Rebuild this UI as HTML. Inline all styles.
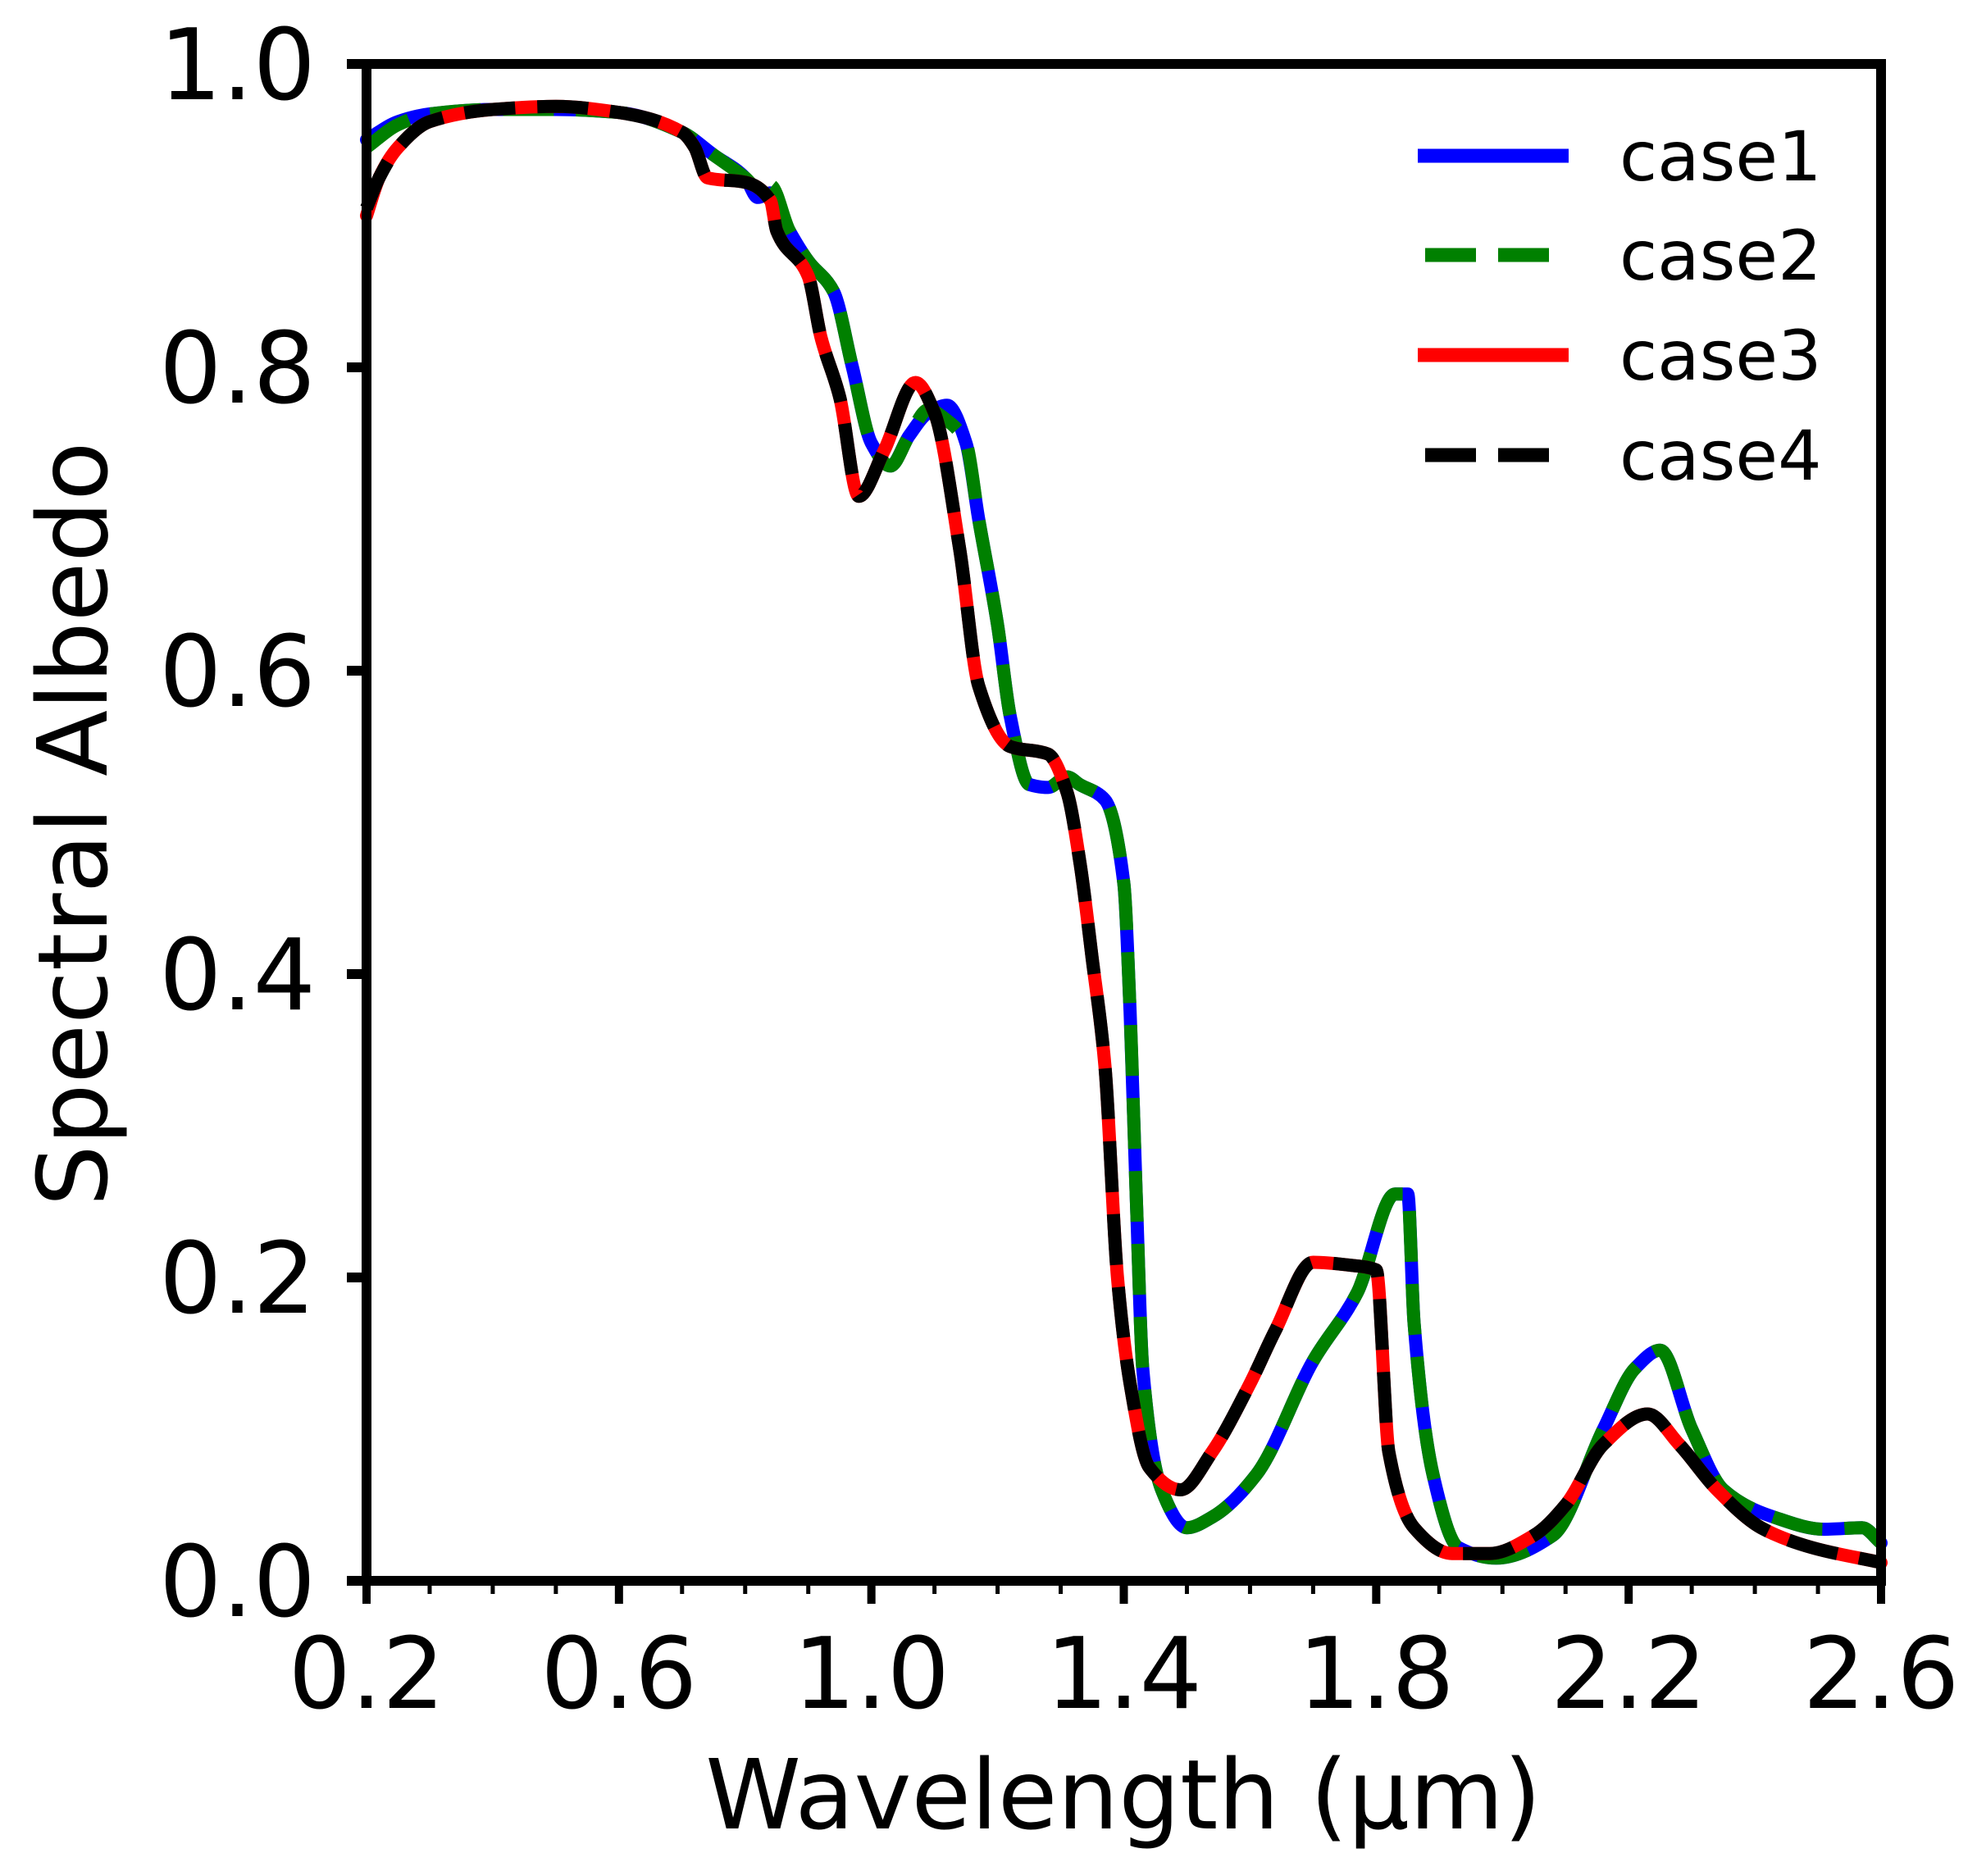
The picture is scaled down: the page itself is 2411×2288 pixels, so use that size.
<!DOCTYPE html>
<html><head><meta charset="utf-8"><style>
html,body{margin:0;padding:0;background:#fff;}
svg{display:block;font-family:"DejaVu Sans","Liberation Sans",sans-serif;}
</style></head><body>
<svg id="chart" width="2411" height="2288" viewBox="0 0 2411 2288">
<rect width="2411" height="2288" fill="#fff"/>
<g id="series"></g>
<g id="axes"></g>
<text x="1370" y="2230" font-size="118" text-anchor="middle">Wavelength (μm)</text>
<text transform="translate(130,1005) rotate(-90)" font-size="118" text-anchor="middle">Spectral Albedo</text>
<g id="legend"></g>
</svg>
<script>
const xTicks = [0.2, 0.6, 1.0, 1.4, 1.8, 2.2, 2.6];
const xTickLabels = ["0.2","0.6","1.0","1.4","1.8","2.2","2.6"];
const yTicks = [0, 0.2, 0.4, 0.6, 0.8, 1.0];
const yTickLabels = ["0.0","0.2","0.4","0.6","0.8","1.0"];
const seriesNames = ["case1","case2","case3","case4"];

const wlA = [0.2,0.25,0.3,0.4,0.5,0.6,0.7,0.75,0.8,0.82,0.84,0.87,0.9,0.94,0.97,1.0,1.03,1.06,1.09,1.12,1.15,1.17,1.2,1.22,1.25,1.28,1.31,1.33,1.37,1.40,1.41,1.42,1.43,1.46,1.50,1.54,1.61,1.70,1.77,1.83,1.85,1.86,1.89,1.93,1.99,2.08,2.16,2.21,2.25,2.30,2.35,2.43,2.51,2.57,2.6];
const case1 = [0.95,0.962,0.967,0.97,0.97,0.968,0.955,0.94,0.925,0.912,0.915,0.89,0.87,0.85,0.8,0.75,0.735,0.755,0.77,0.775,0.75,0.70,0.63,0.57,0.525,0.523,0.53,0.525,0.515,0.46,0.375,0.25,0.14,0.06,0.035,0.042,0.07,0.145,0.19,0.255,0.255,0.17,0.07,0.022,0.015,0.03,0.10,0.14,0.152,0.10,0.06,0.042,0.034,0.035,0.025];
const case2 = [0.945,0.96,0.967,0.97,0.97,0.968,0.955,0.94,0.925,0.918,0.92,0.89,0.87,0.85,0.8,0.75,0.735,0.755,0.772,0.765,0.75,0.70,0.63,0.57,0.525,0.523,0.53,0.525,0.515,0.46,0.375,0.25,0.14,0.06,0.035,0.042,0.07,0.145,0.19,0.255,0.255,0.17,0.07,0.022,0.015,0.03,0.10,0.14,0.152,0.10,0.06,0.042,0.034,0.035,0.025];
const wlB = [0.2,0.22,0.25,0.3,0.4,0.5,0.6,0.7,0.72,0.74,0.8,0.84,0.85,0.9,0.92,0.95,0.98,1.02,1.07,1.1,1.14,1.17,1.22,1.28,1.31,1.33,1.35,1.37,1.39,1.41,1.44,1.49,1.54,1.60,1.64,1.70,1.76,1.80,1.82,1.86,1.92,1.98,2.05,2.1,2.16,2.23,2.28,2.34,2.41,2.49,2.6];
const case3 = [0.90,0.925,0.945,0.962,0.97,0.972,0.968,0.955,0.945,0.925,0.922,0.91,0.89,0.86,0.82,0.78,0.715,0.745,0.79,0.77,0.68,0.59,0.55,0.545,0.52,0.475,0.41,0.34,0.20,0.13,0.075,0.06,0.085,0.13,0.165,0.21,0.208,0.205,0.085,0.035,0.018,0.018,0.03,0.05,0.09,0.11,0.09,0.06,0.035,0.022,0.012];
const case4 = [0.905,0.925,0.945,0.962,0.97,0.972,0.968,0.955,0.945,0.925,0.922,0.91,0.89,0.86,0.82,0.78,0.715,0.745,0.79,0.77,0.68,0.59,0.55,0.545,0.52,0.475,0.41,0.34,0.20,0.13,0.075,0.06,0.085,0.13,0.165,0.21,0.208,0.205,0.085,0.035,0.018,0.018,0.03,0.05,0.09,0.11,0.09,0.06,0.035,0.022,0.012];

const L=447,R=2294,T=78,B=1928;
const X = v => L + (v-0.2)/2.4*(R-L);
const Y = v => B - v*(B-T);
const NS="http://www.w3.org/2000/svg";
function mk(tag, attrs, parent){const e=document.createElementNS(NS,tag);for(const k in attrs)e.setAttribute(k,attrs[k]);parent.appendChild(e);return e;}

function monotonePath(xs, ys){
  const n=xs.length, d=[], m=new Array(n);
  for(let i=0;i<n-1;i++) d.push((ys[i+1]-ys[i])/(xs[i+1]-xs[i]));
  m[0]=d[0]; m[n-1]=d[n-2];
  for(let i=1;i<n-1;i++){
    if(d[i-1]*d[i]<=0) m[i]=0;
    else { const w1=2*(xs[i+1]-xs[i])+(xs[i]-xs[i-1]), w2=(xs[i+1]-xs[i])+2*(xs[i]-xs[i-1]); m[i]=(w1+w2)/(w1/d[i-1]+w2/d[i]); }
  }
  let p='M'+xs[0].toFixed(1)+','+ys[0].toFixed(1);
  for(let i=0;i<n-1;i++){
    const h=(xs[i+1]-xs[i])/3;
    p+='C'+(xs[i]+h).toFixed(1)+','+(ys[i]+m[i]*h).toFixed(1)+' '+(xs[i+1]-h).toFixed(1)+','+(ys[i+1]-m[i+1]*h).toFixed(1)+' '+xs[i+1].toFixed(1)+','+ys[i+1].toFixed(1);
  }
  return p;
}

const sg=document.getElementById('series');
const styles=[
 {wl:wlA,v:case1,c:"#0000ff",d:null},
 {wl:wlA,v:case2,c:"#008000",d:"62 27"},
 {wl:wlB,v:case3,c:"#ff0000",d:null},
 {wl:wlB,v:case4,c:"#000000",d:"62 27"}];
styles.forEach((s,i)=>{
  const d=monotonePath(s.wl.map(X), s.v.map(Y));
  const p=mk('path',{d:d,fill:'none',stroke:s.c,'stroke-width':16,'stroke-linejoin':'round','stroke-linecap':s.d?'butt':'round'},sg);
  if(s.d)p.setAttribute('stroke-dasharray',s.d);
  
  
});

const ag=document.getElementById('axes');
const frame=mk('rect',{x:L,y:T,width:R-L,height:B-T,fill:'none',stroke:'#000','stroke-width':12},ag);


xTicks.forEach((t,i)=>{
  const ln=mk('line',{x1:X(t),x2:X(t),y1:B,y2:B+28,stroke:'#000','stroke-width':10},ag);
  
  
  const tx=mk('text',{x:X(t),y:2083,'font-size':120,'text-anchor':'middle'},ag);
  tx.textContent=xTickLabels[i];
  
  
});
for(let k=0;k<24;k++){
  const t=0.2+k*0.1; if(k%4===0)continue;
  const ln=mk('line',{x1:X(t),x2:X(t),y1:B,y2:B+16,stroke:'#000','stroke-width':5},ag);
  
  
}
yTicks.forEach((t,i)=>{
  const ln=mk('line',{x1:L-24,x2:L,y1:Y(t),y2:Y(t),stroke:'#000','stroke-width':12},ag);
  
  
  const tx=mk('text',{x:385,y:Y(t)+43,'font-size':120,'text-anchor':'end'},ag);
  tx.textContent=yTickLabels[i];
  
  
});

const lg=document.getElementById('legend');
const ly=[190,311,433,555];
styles.forEach((s,i)=>{
  const ln=mk('line',{x1:s.d?1738:1729,x2:s.d?1889:1913,y1:ly[i],y2:ly[i],stroke:s.c,'stroke-width':17},lg);
  if(s.d)ln.setAttribute('stroke-dasharray',s.d);
  
  
  const tx=mk('text',{x:1975,y:ly[i]+30,'font-size':84},lg);
  tx.textContent=seriesNames[i];
  
  
});
</script>
</body></html>
